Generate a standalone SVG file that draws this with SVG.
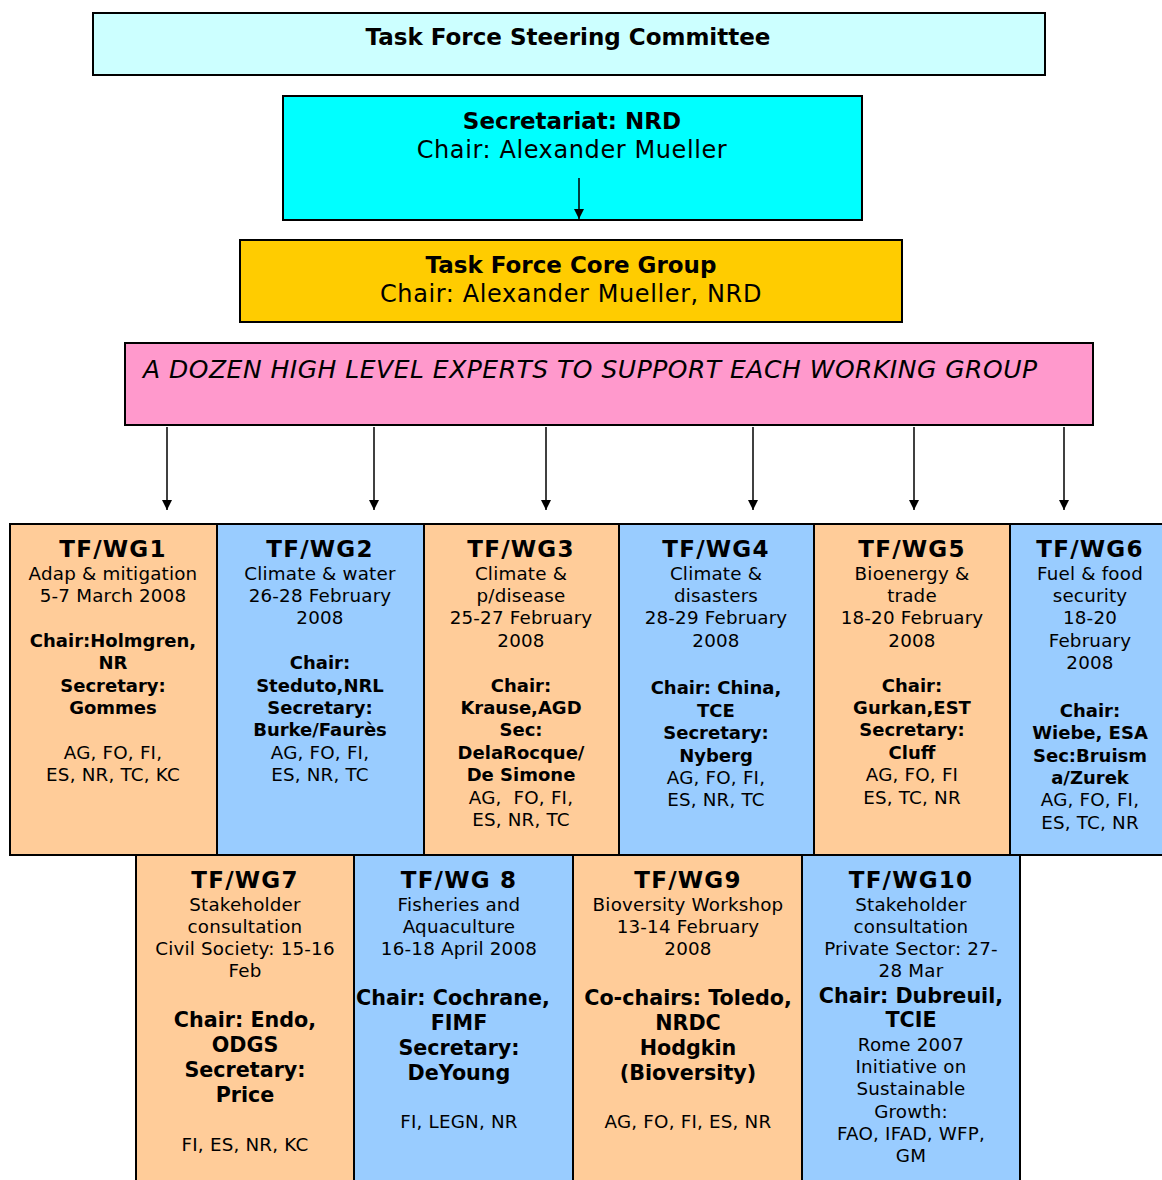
<svg xmlns="http://www.w3.org/2000/svg" width="1162" height="1180" viewBox="0 0 1162 1180">
<defs>
<marker id="ah" viewBox="0 0 10 10" refX="10" refY="5" markerWidth="10" markerHeight="10" markerUnits="userSpaceOnUse" orient="auto">
<path d="M0,0 L10,5 L0,10 z" fill="#000"/>
</marker>
<style>
text{font-family:"DejaVu Sans","Verdana",sans-serif;fill:#000;text-anchor:middle}
.box{stroke:#000;stroke-width:2}
.or{fill:#FFCC99}
.bl{fill:#99CCFF}
.t{font-size:23px;font-weight:bold;letter-spacing:1.2px}
.r{font-size:18.3px;letter-spacing:0.2px}
.b{font-size:18px;font-weight:bold}
.b2{font-size:20.7px;font-weight:bold}
.h{font-size:23px;font-weight:bold}
.hr{font-size:24px;letter-spacing:0.6px}
.conn line{stroke:#000;stroke-width:1.5;marker-end:url(#ah)}
</style>
</defs>
<rect width="1162" height="1180" fill="#fff"/>

<g id="steering">
<rect class="box" x="93" y="13" width="952" height="62" fill="#CCFFFF"/>
<text x="568" y="45" style="font-size:23px;font-weight:bold">Task Force Steering Committee</text>
</g>

<g id="secretariat">
<rect class="box" x="283" y="96" width="579" height="124" fill="#00FFFF"/>
<text class="h" x="572" y="129">Secretariat: NRD</text>
<text class="hr" x="572" y="158">Chair: Alexander Mueller</text>
</g>

<g id="coregroup">
<rect class="box" x="240" y="240" width="662" height="82" fill="#FFCC00"/>
<text class="h" x="571" y="273">Task Force Core Group</text>
<text class="hr" x="571" y="302">Chair: Alexander Mueller, NRD</text>
</g>

<g id="experts">
<rect class="box" x="125" y="343" width="968" height="82" fill="#FF99CC"/>
<text x="143" y="378" style="font-size:25px;font-style:italic;text-anchor:start;letter-spacing:0.5px">A DOZEN HIGH LEVEL EXPERTS TO SUPPORT EACH WORKING GROUP</text>
</g>

<g id="wg1">
<rect class="box or" x="10" y="524" width="207" height="331"/>
<text class="t" x="113" y="557">TF/WG1</text>
<text class="r" x="113" y="580">Adap &amp; mitigation</text>
<text class="r" x="113" y="602">5-7 March 2008</text>
<text class="b" x="113" y="647">Chair:Holmgren,</text>
<text class="b" x="113" y="669">NR</text>
<text class="b" x="113" y="692">Secretary:</text>
<text class="b" x="113" y="714">Gommes</text>
<text class="r" x="113" y="759">AG, FO, FI,</text>
<text class="r" x="113" y="781">ES, NR, TC, KC</text>
</g>

<g id="wg2">
<rect class="box bl" x="217" y="524" width="207" height="331"/>
<text class="t" x="320" y="557">TF/WG2</text>
<text class="r" x="320" y="580">Climate &amp; water</text>
<text class="r" x="320" y="602">26-28 February</text>
<text class="r" x="320" y="624">2008</text>
<text class="b" x="320" y="669">Chair:</text>
<text class="b" x="320" y="692">Steduto,NRL</text>
<text class="b" x="320" y="714">Secretary:</text>
<text class="b" x="320" y="736">Burke/Faurès</text>
<text class="r" x="320" y="759">AG, FO, FI,</text>
<text class="r" x="320" y="781">ES, NR, TC</text>
</g>

<g id="wg3">
<rect class="box or" x="424" y="524" width="195" height="331"/>
<text class="t" x="521" y="557">TF/WG3</text>
<text class="r" x="521" y="580">Climate &amp;</text>
<text class="r" x="521" y="602">p/disease</text>
<text class="r" x="521" y="624">25-27 February</text>
<text class="r" x="521" y="647">2008</text>
<text class="b" x="521" y="692">Chair:</text>
<text class="b" x="521" y="714">Krause,AGD</text>
<text class="b" x="521" y="736">Sec:</text>
<text class="b" x="521" y="759">DelaRocque/</text>
<text class="b" x="521" y="781">De Simone</text>
<text class="r" x="521" y="804" xml:space="preserve">AG,  FO, FI,</text>
<text class="r" x="521" y="826">ES, NR, TC</text>
</g>

<g id="wg4">
<rect class="box bl" x="619" y="524" width="195" height="331"/>
<text class="t" x="716" y="557">TF/WG4</text>
<text class="r" x="716" y="580">Climate &amp;</text>
<text class="r" x="716" y="602">disasters</text>
<text class="r" x="716" y="624">28-29 February</text>
<text class="r" x="716" y="647">2008</text>
<text class="b" x="716" y="694">Chair: China,</text>
<text class="b" x="716" y="717">TCE</text>
<text class="b" x="716" y="739">Secretary:</text>
<text class="b" x="716" y="762">Nyberg</text>
<text class="r" x="716" y="784">AG, FO, FI,</text>
<text class="r" x="716" y="806">ES, NR, TC</text>
</g>

<g id="wg5">
<rect class="box or" x="814" y="524" width="196" height="331"/>
<text class="t" x="912" y="557">TF/WG5</text>
<text class="r" x="912" y="580">Bioenergy &amp;</text>
<text class="r" x="912" y="602">trade</text>
<text class="r" x="912" y="624">18-20 February</text>
<text class="r" x="912" y="647">2008</text>
<text class="b" x="912" y="692">Chair:</text>
<text class="b" x="912" y="714">Gurkan,EST</text>
<text class="b" x="912" y="736">Secretary:</text>
<text class="b" x="912" y="759">Cluff</text>
<text class="r" x="912" y="781">AG, FO, FI</text>
<text class="r" x="912" y="804">ES, TC, NR</text>
</g>

<g id="wg6">
<rect class="box bl" x="1010" y="524" width="160" height="331"/>
<text class="t" x="1090" y="557">TF/WG6</text>
<text class="r" x="1090" y="580">Fuel &amp; food</text>
<text class="r" x="1090" y="602">security</text>
<text class="r" x="1090" y="624">18-20</text>
<text class="r" x="1090" y="647">February</text>
<text class="r" x="1090" y="669">2008</text>
<text class="b" x="1090" y="717">Chair:</text>
<text class="b" x="1090" y="739">Wiebe, ESA</text>
<text class="b" x="1090" y="762">Sec:Bruism</text>
<text class="b" x="1090" y="784">a/Zurek</text>
<text class="r" x="1090" y="806">AG, FO, FI,</text>
<text class="r" x="1090" y="829">ES, TC, NR</text>
</g>

<g id="wg7">
<rect class="box or" x="136" y="855" width="218" height="335"/>
<text class="t" x="245" y="888">TF/WG7</text>
<text class="r" x="245" y="911">Stakeholder</text>
<text class="r" x="245" y="933">consultation</text>
<text class="r" x="245" y="955">Civil Society: 15-16</text>
<text class="r" x="245" y="977">Feb</text>
<text class="b2" x="245" y="1027">Chair: Endo,</text>
<text class="b2" x="245" y="1052">ODGS</text>
<text class="b2" x="245" y="1077">Secretary:</text>
<text class="b2" x="245" y="1102">Price</text>
<text class="r" x="245" y="1151">FI, ES, NR, KC</text>
</g>

<g id="wg8">
<rect class="box bl" x="354" y="855" width="219" height="335"/>
<text class="t" x="459" y="888">TF/WG 8</text>
<text class="r" x="459" y="911">Fisheries and</text>
<text class="r" x="459" y="933">Aquaculture</text>
<text class="r" x="459" y="955">16-18 April 2008</text>
<text class="b2" x="453" y="1005">Chair: Cochrane,</text>
<text class="b2" x="459" y="1030">FIMF</text>
<text class="b2" x="459" y="1055">Secretary:</text>
<text class="b2" x="459" y="1080">DeYoung</text>
<text class="r" x="459" y="1128">FI, LEGN, NR</text>
</g>

<g id="wg9">
<rect class="box or" x="573" y="855" width="229" height="335"/>
<text class="t" x="688" y="888">TF/WG9</text>
<text class="r" x="688" y="911">Bioversity Workshop</text>
<text class="r" x="688" y="933">13-14 February</text>
<text class="r" x="688" y="955">2008</text>
<text class="b2" x="688" y="1005">Co-chairs: Toledo,</text>
<text class="b2" x="688" y="1030">NRDC</text>
<text class="b2" x="688" y="1055">Hodgkin</text>
<text class="b2" x="688" y="1080">(Bioversity)</text>
<text class="r" x="688" y="1128">AG, FO, FI, ES, NR</text>
</g>

<g id="wg10">
<rect class="box bl" x="802" y="855" width="218" height="335"/>
<text class="t" x="911" y="888">TF/WG10</text>
<text class="r" x="911" y="911">Stakeholder</text>
<text class="r" x="911" y="933">consultation</text>
<text class="r" x="911" y="955">Private Sector: 27-</text>
<text class="r" x="911" y="977">28 Mar</text>
<text class="b2" x="911" y="1003">Chair: Dubreuil,</text>
<text class="b2" x="911" y="1027">TCIE</text>
<text class="r" x="911" y="1051">Rome 2007</text>
<text class="r" x="911" y="1073">Initiative on</text>
<text class="r" x="911" y="1095">Sustainable</text>
<text class="r" x="911" y="1118">Growth:</text>
<text class="r" x="911" y="1140">FAO, IFAD, WFP,</text>
<text class="r" x="911" y="1162">GM</text>
</g>

<g id="connectors" class="conn">
<line x1="579" y1="178" x2="579" y2="219"/>
<line x1="167" y1="427" x2="167" y2="510"/>
<line x1="374" y1="427" x2="374" y2="510"/>
<line x1="546" y1="427" x2="546" y2="510"/>
<line x1="753" y1="427" x2="753" y2="510"/>
<line x1="914" y1="427" x2="914" y2="510"/>
<line x1="1064" y1="427" x2="1064" y2="510"/>
</g>
</svg>
